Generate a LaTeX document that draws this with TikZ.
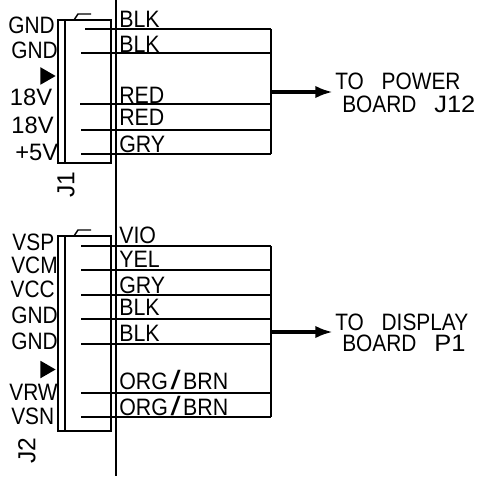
\documentclass[tikz,border=0pt]{standalone}
\usepackage{fontspec}
\setmainfont{Liberation Sans}
\usetikzlibrary{calc,arrows.meta,shapes.geometric}
\newcommand{\bigslash}{\hspace{0.12em}\smash{\scalebox{1.7}[1.12]{/}}\hspace{0.12em}}
\newcommand{\widetag}[1]{\scalebox{1.22}[1]{#1}}
\tikzset{
  wirelabel/.style={anchor=west,inner sep=0pt,font=\fontsize{13.5}{14}\selectfont,xscale=0.9,transform shape},
  pinlabel/.style={anchor=east,inner sep=0pt,font=\fontsize{13.5}{14}\selectfont,xscale=0.88,transform shape},
  numlabel/.style={anchor=east,inner sep=0pt,font=\fontsize{13.5}{14}\selectfont},
  boardlabel/.style={anchor=west,inner sep=0pt,font=\fontsize{13.5}{14}\selectfont,xscale=0.88,transform shape},
  connlabel/.style={rotate=90,inner sep=0pt,font=\fontsize{14}{14}\selectfont},
  wire/.style={line width=0.6pt},
  feed/.style={-{Latex[length=10pt,width=7pt]},line width=2pt},
  pinmark/.style={fill=black,draw=none,regular polygon,regular polygon sides=3,shape border rotate=-90,inner sep=0pt,minimum size=11.5pt}
}
\begin{document}
\begin{tikzpicture}[x=0.02cm,y=-0.02cm]
  \useasboundingbox (0,0) rectangle (479,476);
  \fill[white] (0,0) rectangle (479,476);
  % main vertical line
  \coordinate (top) at (116,0);
  \coordinate (bot) at (116,476);
  \draw[line width=0.9pt] (top)--(bot);
  % connector J1
  \draw[line width=0.7pt] (58,20) rectangle (111,163);
  \draw[wire] (65,20)--(65,163);
  \draw[line width=0.8pt] (74,20)--(78,14)--(91,14);
  \foreach \name/\ya/\xa in {a/29/85,b/53/81,c/104/80,d/130/81,e/154/81}{
    \coordinate (\name l) at (\xa,\ya);
    \coordinate (\name r) at (271,\ya);
    \draw[wire] (\name l)--(\name r);
  }
  \draw[wire] (ar)--(er);
  \foreach \txt/\ya in {BLK/19,BLK/44,RED/95,RED/117,GRY/144}{
    \node[wirelabel] (w\ya) at (119,\ya) {\txt};
  }
  \node[pinlabel] (p1) at (55,25.5) {GND};
  \node[pinlabel] (p2) at (58,50) {GND};
  \node[pinmark] (p3) at (45.5,76) {};
  \node[numlabel] (p4) at (52.5,97) {18V};
  \node[numlabel] (p5) at (54,125) {18V};
  \node[numlabel] (p6) at (58.5,152) {+5V};
  \node[connlabel] (j1) at (66,185) {J1};
  % feed to power board
  \coordinate (pwr) at (271,92);
  \node[boardlabel] (power) at (335,81.5) {TO\hspace{0.85em}POWER};
  \node[boardlabel] (jtwelve) at (342,104) {BOARD\hspace{0.85em}\widetag{J12}};
  \coordinate (pwrend) at (333,92);
  \draw[feed] (pwr)--(pwrend);
  % connector J2
  \draw[line width=0.7pt] (58,236) rectangle (111,431);
  \draw[wire] (65,236)--(65,431);
  \draw[line width=0.8pt] (74,236)--(78,230)--(91,230);
  \foreach \name/\ya in {f/246,g/270,h/295,i/319,j/344,k/393,l/417}{
    \coordinate (\name l) at (81,\ya);
    \coordinate (\name r) at (271,\ya);
    \draw[wire] (\name l)--(\name r);
  }
  \draw[wire] (fr)--(lr);
  \foreach \txt/\ya in {VIO/235.5,YEL/259,GRY/285,BLK/307,BLK/333}{
    \node[wirelabel] (w\ya) at (119,\ya) {\txt};
  }
  \node[wirelabel] (w382) at (119,381) {ORG\bigslash BRN};
  \node[wirelabel] (w407) at (119,407) {ORG\bigslash BRN};
  \node[pinlabel] (q1) at (54.5,242) {VSP};
  \node[pinlabel] (q2) at (58,265) {VCM};
  \node[pinlabel] (q3) at (55,289) {VCC};
  \node[pinlabel] (q4) at (58,315) {GND};
  \node[pinlabel] (q5) at (58,341) {GND};
  \node[pinmark] (q6) at (45.5,369.5) {};
  \node[pinlabel] (q7) at (58,392) {VRW};
  \node[pinlabel] (q8) at (54.5,416) {VSN};
  \node[connlabel] (j2) at (27,451) {J2};
  % feed to display board
  \coordinate (dsp) at (271,332);
  \node[boardlabel] (display) at (335,322) {TO\hspace{0.85em}DISPLAY};
  \node[boardlabel] (pone) at (342,343) {BOARD\hspace{0.85em}\widetag{P1}};
  \coordinate (dspend) at (333,332);
  \draw[feed] (dsp)--(dspend);
\end{tikzpicture}
\end{document}
